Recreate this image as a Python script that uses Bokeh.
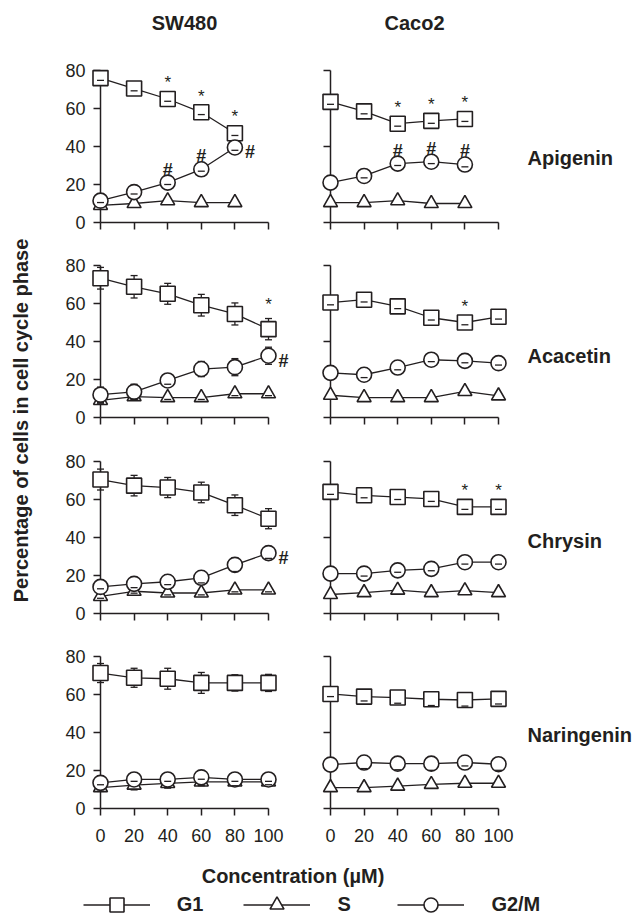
import math
from bokeh.plotting import figure
from bokeh.layouts import row, column
from bokeh.models import FixedTicker, Range1d, Legend, LegendItem
from bokeh.core.properties import value
from bokeh.embed import file_html
from bokeh.resources import INLINE

# ---------------- data ----------------
CONC = [0, 20, 40, 60, 80, 100]
X_TICKS = [0, 20, 40, 60, 80, 100]
Y_TICKS_LEFT = [0, 20, 40, 60, 80]
Y_TICKS_RIGHT = [0, 40, 80]
CELL_LINES = ["SW480", "Caco2"]
COMPOUNDS = ["Apigenin", "Acacetin", "Chrysin", "Naringenin"]
PHASES = ["G1", "S", "G2/M"]
Y_LABEL = "Percentage of cells in cell cycle phase"
X_LABEL = "Concentration (\u00b5M)"

# SW480 - Apigenin (0-80 uM)
SW480_API_G1 = [76.0, 70.5, 65.0, 58.0, 47.0]
SW480_API_G1_SD = [1.2, 1.2, 1.2, 1.2, 1.2]
SW480_API_S = [9.0, 10.0, 11.5, 10.5, 10.5]
SW480_API_S_SD = [0, 0, 0, 0, 0]
SW480_API_G2M = [11.5, 16.0, 21.0, 28.0, 39.5]
SW480_API_G2M_SD = [1.0, 1.0, 1.0, 1.0, 1.5]
SW480_API_STAR = [40, 60, 80]
SW480_API_HASH_ABOVE = [40, 60]
SW480_API_HASH_RIGHT = [80]

# Caco2 - Apigenin (0-80 uM)
CACO2_API_G1 = [63.5, 58.5, 52.0, 53.5, 54.5]
CACO2_API_G1_SD = [1.3, 1.3, 1.3, 1.3, 1.3]
CACO2_API_S = [10.5, 10.5, 11.5, 10.0, 10.0]
CACO2_API_S_SD = [0, 0, 0, 0, 0]
CACO2_API_G2M = [21.0, 24.5, 31.0, 32.0, 30.5]
CACO2_API_G2M_SD = [0, 1.0, 1.0, 1.0, 1.2]
CACO2_API_STAR = [40, 60, 80]
CACO2_API_HASH_ABOVE = [40, 60, 80]
CACO2_API_HASH_RIGHT = []

# SW480 - Acacetin
SW480_ACA_G1 = [73.3, 68.8, 65.1, 59.1, 54.5, 46.5]
SW480_ACA_G1_SD = [5.7, 5.9, 5.5, 5.7, 5.8, 5.6]
SW480_ACA_S = [9.0, 11.0, 10.5, 10.5, 12.5, 12.5]
SW480_ACA_S_SD = [1.5, 1.5, 1.0, 1.0, 1.0, 1.0]
SW480_ACA_G2M = [12.0, 13.5, 19.5, 25.5, 26.5, 32.5]
SW480_ACA_G2M_SD = [4.0, 4.0, 2.0, 4.0, 4.5, 4.5]
SW480_ACA_STAR = [100]
SW480_ACA_HASH_ABOVE = []
SW480_ACA_HASH_RIGHT = [100]

# Caco2 - Acacetin
CACO2_ACA_G1 = [60.5, 62.0, 58.5, 52.5, 50.0, 53.0]
CACO2_ACA_G1_SD = [1.2, 1.2, 1.2, 1.2, 1.2, 1.2]
CACO2_ACA_S = [11.7, 10.5, 10.5, 10.5, 13.7, 11.4]
CACO2_ACA_S_SD = [0, 0, 0, 0, 0, 0]
CACO2_ACA_G2M = [23.5, 22.5, 26.3, 30.4, 29.8, 28.6]
CACO2_ACA_G2M_SD = [0, 1.5, 1.2, 1.0, 1.0, 1.0]
CACO2_ACA_STAR = [80]
CACO2_ACA_HASH_ABOVE = []
CACO2_ACA_HASH_RIGHT = []

# SW480 - Chrysin
SW480_CHR_G1 = [70.5, 67.3, 66.3, 63.7, 57.0, 49.9]
SW480_CHR_G1_SD = [5.5, 5.4, 5.3, 5.4, 5.4, 5.3]
SW480_CHR_S = [9.0, 11.7, 10.8, 10.8, 12.4, 12.4]
SW480_CHR_S_SD = [1.0, 1.0, 1.0, 1.0, 1.0, 1.0]
SW480_CHR_G2M = [14.0, 15.6, 16.7, 18.8, 25.6, 31.8]
SW480_CHR_G2M_SD = [1.0, 2.0, 1.5, 2.7, 3.5, 2.8]
SW480_CHR_STAR = []
SW480_CHR_HASH_ABOVE = []
SW480_CHR_HASH_RIGHT = [100]

# Caco2 - Chrysin
CACO2_CHR_G1 = [64.0, 62.2, 61.3, 60.3, 56.1, 56.1]
CACO2_CHR_G1_SD = [1.3, 1.3, 1.3, 1.3, 1.3, 1.3]
CACO2_CHR_S = [10.0, 11.0, 12.3, 11.0, 12.0, 11.0]
CACO2_CHR_S_SD = [0, 0, 0, 0, 0, 0]
CACO2_CHR_G2M = [21.0, 21.0, 22.7, 23.5, 27.0, 27.0]
CACO2_CHR_G2M_SD = [0, 1.3, 1.0, 1.0, 1.0, 1.0]
CACO2_CHR_STAR = [80, 100]
CACO2_CHR_HASH_ABOVE = []
CACO2_CHR_HASH_RIGHT = []

# SW480 - Naringenin
SW480_NAR_G1 = [71.3, 68.8, 68.3, 66.1, 66.1, 66.1]
SW480_NAR_G1_SD = [5.0, 5.0, 5.5, 5.5, 4.3, 4.5]
SW480_NAR_S = [11.0, 12.3, 13.2, 14.0, 14.0, 14.0]
SW480_NAR_S_SD = [2.0, 2.5, 2.5, 2.0, 2.0, 1.5]
SW480_NAR_G2M = [13.5, 15.3, 15.3, 16.4, 15.3, 15.3]
SW480_NAR_G2M_SD = [1.0, 1.0, 1.0, 1.0, 1.0, 1.0]
SW480_NAR_STAR = []
SW480_NAR_HASH_ABOVE = []
SW480_NAR_HASH_RIGHT = []

# Caco2 - Naringenin
CACO2_NAR_G1 = [60.3, 58.9, 58.4, 57.5, 57.1, 57.7]
CACO2_NAR_G1_SD = [1.4, 2.3, 3.0, 3.3, 3.2, 2.7]
CACO2_NAR_S = [11.0, 11.0, 11.8, 12.7, 13.3, 13.3]
CACO2_NAR_S_SD = [0, 0, 0, 0, 0, 0]
CACO2_NAR_G2M = [23.1, 24.2, 23.6, 23.6, 24.2, 23.3]
CACO2_NAR_G2M_SD = [0, 3.2, 3.2, 3.5, 1.8, 3.2]
CACO2_NAR_STAR = []
CACO2_NAR_HASH_ABOVE = []
CACO2_NAR_HASH_RIGHT = []

PANELS = [
    [(SW480_API_G1, SW480_API_G1_SD, SW480_API_S, SW480_API_S_SD, SW480_API_G2M, SW480_API_G2M_SD,
      SW480_API_STAR, SW480_API_HASH_ABOVE, SW480_API_HASH_RIGHT),
     (CACO2_API_G1, CACO2_API_G1_SD, CACO2_API_S, CACO2_API_S_SD, CACO2_API_G2M, CACO2_API_G2M_SD,
      CACO2_API_STAR, CACO2_API_HASH_ABOVE, CACO2_API_HASH_RIGHT)],
    [(SW480_ACA_G1, SW480_ACA_G1_SD, SW480_ACA_S, SW480_ACA_S_SD, SW480_ACA_G2M, SW480_ACA_G2M_SD,
      SW480_ACA_STAR, SW480_ACA_HASH_ABOVE, SW480_ACA_HASH_RIGHT),
     (CACO2_ACA_G1, CACO2_ACA_G1_SD, CACO2_ACA_S, CACO2_ACA_S_SD, CACO2_ACA_G2M, CACO2_ACA_G2M_SD,
      CACO2_ACA_STAR, CACO2_ACA_HASH_ABOVE, CACO2_ACA_HASH_RIGHT)],
    [(SW480_CHR_G1, SW480_CHR_G1_SD, SW480_CHR_S, SW480_CHR_S_SD, SW480_CHR_G2M, SW480_CHR_G2M_SD,
      SW480_CHR_STAR, SW480_CHR_HASH_ABOVE, SW480_CHR_HASH_RIGHT),
     (CACO2_CHR_G1, CACO2_CHR_G1_SD, CACO2_CHR_S, CACO2_CHR_S_SD, CACO2_CHR_G2M, CACO2_CHR_G2M_SD,
      CACO2_CHR_STAR, CACO2_CHR_HASH_ABOVE, CACO2_CHR_HASH_RIGHT)],
    [(SW480_NAR_G1, SW480_NAR_G1_SD, SW480_NAR_S, SW480_NAR_S_SD, SW480_NAR_G2M, SW480_NAR_G2M_SD,
      SW480_NAR_STAR, SW480_NAR_HASH_ABOVE, SW480_NAR_HASH_RIGHT),
     (CACO2_NAR_G1, CACO2_NAR_G1_SD, CACO2_NAR_S, CACO2_NAR_S_SD, CACO2_NAR_G2M, CACO2_NAR_G2M_SD,
      CACO2_NAR_STAR, CACO2_NAR_HASH_ABOVE, CACO2_NAR_HASH_RIGHT)],
]
ROW_LABEL_Y = [34.2, 32.6, 38.4, 38.9]

# ---------------- style / layout ----------------
INK = "#231f20"
FONT = "Liberation Sans"
ROW_HEIGHTS = [240, 195, 196, 219]
ROW_TOPS = [70, 25, 26, 25]
ROW_BOTTOMS = [18, 18, 18, 42]
LV = "overlay"


def make_panel(data, col, ri):
    g1, g1_sd, s, s_sd, g2m, g2m_sd, stars, hash_above, hash_right = data
    left = col == 0
    last = ri == 3
    width = 260 if left else 339
    bl, br = (60, 32) if left else (30, 141)
    p = figure(width=width, height=ROW_HEIGHTS[ri], x_range=Range1d(0, 100), y_range=Range1d(0, 80),
               min_border_left=bl, min_border_right=br, min_border_top=ROW_TOPS[ri],
               min_border_bottom=ROW_BOTTOMS[ri], output_backend="svg", toolbar_location=None)
    p.outline_line_color = None
    p.grid.visible = False
    p.background_fill_color = "white"
    p.border_fill_color = "white"

    p.xaxis.ticker = FixedTicker(ticks=X_TICKS)
    p.yaxis.ticker = FixedTicker(ticks=Y_TICKS_LEFT if left else Y_TICKS_RIGHT)
    for ax in (p.xaxis[0], p.yaxis[0]):
        ax.axis_line_color = INK
        ax.axis_line_width = 1.5
        ax.major_tick_line_color = INK
        ax.major_tick_line_width = 1.5
        ax.major_tick_out = 7
        ax.major_tick_in = 0
        ax.minor_tick_line_color = None
        ax.major_label_text_font = FONT
        ax.major_label_text_font_size = "18px"
        ax.major_label_text_color = INK
        ax.major_label_standoff = 8
    p.xaxis.major_label_standoff = 13
    if not left:
        p.yaxis.major_label_text_font_size = "0px"
        p.yaxis.major_label_standoff = 0
        p.yaxis.major_label_overrides = {t: "" for t in Y_TICKS_RIGHT}
    if not last:
        p.xaxis.major_label_text_font_size = "0px"
        p.xaxis.major_label_standoff = 0
        p.xaxis.major_label_overrides = {t: "" for t in X_TICKS}

    x = CONC[:len(g1)]
    series = [(s, s_sd, "triangle", 14), (g1, g1_sd, "square", 15), (g2m, g2m_sd, "circle", 15)]
    for vals, sd, mk, sz in series:
        p.line(x, vals, line_color=INK, line_width=1.3, level=LV)
    for vals, sd, mk, sz in series:
        xs = [xi for xi, e in zip(x, sd) if e > 0]
        lo = [v - e for v, e in zip(vals, sd) if e > 0]
        hi = [v + e for v, e in zip(vals, sd) if e > 0]
        if xs:
            p.segment(x0=xs, y0=lo, x1=xs, y1=hi, line_color=INK, line_width=1.3, level=LV)
            p.scatter(xs, hi, marker="dash", size=7, line_color=INK, line_width=1.3, level=LV)
    for vals, sd, mk, sz in series:
        p.scatter(x, vals, marker=mk, size=sz, fill_color="white", line_color=INK,
                  line_width=1.6, level=LV)
    for vals, sd, mk, sz in series:
        xs = [xi for xi, e in zip(x, sd) if e > 0]
        lo = [v - e for v, e in zip(vals, sd) if e > 0]
        if xs:
            p.scatter(xs, lo, marker="dash", size=7, line_color=INK, line_width=1.3, level=LV)

    # significance marks
    if stars:
        idx = [x.index(c) for c in stars]
        p.text(x=[x[i] for i in idx], y=[g1[i] + g1_sd[i] for i in idx], text=["*"] * len(idx),
               text_font=value(FONT), text_font_size="17px", text_color=INK, text_align="center",
               text_baseline="middle", y_offset=-14, level=LV)
    if hash_above:
        idx = [x.index(c) for c in hash_above]
        p.text(x=[x[i] for i in idx], y=[g2m[i] + g2m_sd[i] for i in idx], text=["#"] * len(idx),
               text_font=value(FONT), text_font_size="18px", text_font_style="bold", text_color=INK,
               text_align="center", text_baseline="middle", y_offset=-11, level=LV)
    if hash_right:
        idx = [x.index(c) for c in hash_right]
        p.text(x=[x[i] for i in idx], y=[g2m[i] for i in idx], text=["#"] * len(idx),
               text_font=value(FONT), text_font_size="18px", text_font_style="bold", text_color=INK,
               text_align="center", text_baseline="middle", x_offset=15, y_offset=5, level=LV)

    if ri == 0:
        p.text(x=[50], y=[80], text=[CELL_LINES[col]], text_font=value(FONT), text_font_size="20px",
               text_font_style="bold", text_color=INK, text_align="center", text_baseline="middle",
               y_offset=-48, level=LV)
    if not left:
        p.text(x=[100], y=[ROW_LABEL_Y[ri]], text=[COMPOUNDS[ri]], text_font=value(FONT),
               text_font_size="20px", text_font_style="bold", text_color=INK, text_align="left",
               text_baseline="middle", x_offset=29, level=LV)
    return p


rows = []
for ri in range(4):
    rows.append(row(make_panel(PANELS[ri][0], 0, ri), make_panel(PANELS[ri][1], 1, ri)))

# y label strip
yl = figure(width=40, height=913, x_range=Range1d(0, 40), y_range=Range1d(0, 913),
            x_axis_location=None, y_axis_location=None, min_border=0,
            output_backend="svg", toolbar_location=None)
yl.outline_line_color = None
yl.grid.visible = False
yl.text(x=[20], y=[493], text=[Y_LABEL], angle=math.pi / 2, text_font=value(FONT),
        text_font_size="20px", text_font_style="bold", text_color=INK, text_align="center",
        text_baseline="middle")

# bottom: x label + legend
b = figure(width=599, height=63, x_range=Range1d(0, 599), y_range=Range1d(0, 63),
           x_axis_location=None, y_axis_location=None, min_border=0,
           output_backend="svg", toolbar_location=None)
b.outline_line_color = None
b.grid.visible = False
b.text(x=[252.5], y=[38], text=[X_LABEL], text_font=value(FONT), text_font_size="20px",
       text_font_style="bold", text_color=INK, text_align="center", text_baseline="middle")
items = []
for label, mk in zip(PHASES, ["square", "triangle", "circle"]):
    # legend-only renderers: placed outside the visible range
    lr = b.line([-100, -90], [-100, -100], line_color=INK, line_width=1.3)
    sr = b.scatter([-100], [-100], marker=mk, size=14, fill_color="white", line_color=INK,
                   line_width=1.6)
    items.append(LegendItem(label=label, renderers=[lr, sr]))
legend = Legend(items=items, orientation="horizontal", location=(42.7, -8.5), glyph_width=67,
                glyph_height=35, label_standoff=27, spacing=40, padding=0, margin=0,
                border_line_color=None, background_fill_alpha=0, label_text_font=FONT,
                label_text_font_size="20px", label_text_font_style="bold", label_text_color=INK)
b.add_layout(legend)

layout = row(yl, column(*rows, b))
open("out.html", "w").write(file_html(layout, INLINE))
